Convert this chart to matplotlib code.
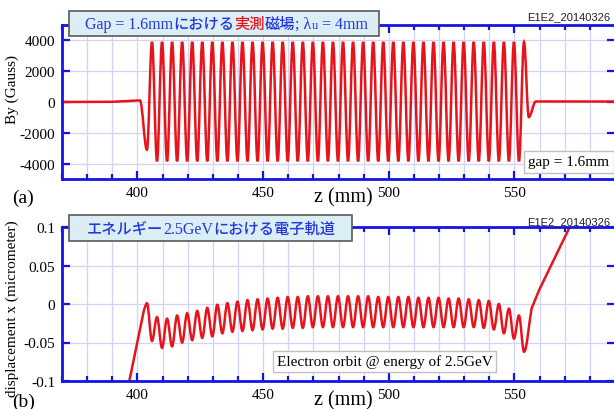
import matplotlib
matplotlib.use("Agg")
import matplotlib.pyplot as plt
from matplotlib.patches import Rectangle, PathPatch
from matplotlib.path import Path
from matplotlib.offsetbox import TextArea, HPacker, AnnotationBbox
from matplotlib.ticker import MultipleLocator, FixedLocator

plt.rcParams["axes.unicode_minus"] = False

# z positions (mm) of the field extrema: By troughs / By peaks
trough_z = [403.8, 407.8, 411.8, 415.8, 419.8, 423.8, 427.8, 431.8, 435.8, 439.8,
            443.8, 447.8, 451.8, 455.8, 459.8, 463.8, 467.8, 471.8, 475.8, 479.8,
            483.8, 487.8, 491.8, 495.8, 499.8, 503.8, 507.8, 511.8, 515.8, 519.8,
            523.8, 527.8, 531.8, 535.8, 539.8, 543.8, 547.8, 551.8]
peak_z = [405.8, 409.8, 413.8, 417.8, 421.8, 425.8, 429.8, 433.8, 437.8, 441.8,
          445.8, 449.8, 453.8, 457.8, 461.8, 465.8, 469.8, 473.8, 477.8, 481.8,
          485.8, 489.8, 493.8, 497.8, 501.8, 505.8, 509.8, 513.8, 517.8, 521.8,
          525.8, 529.8, 533.8, 537.8, 541.8, 545.8, 549.8, 553.8]

# measured field By (Gauss)
by_troughs = [-3100, -3850, -3850, -3850, -3850, -3850, -3850, -3850, -3850, -3850,
              -3850, -3850, -3850, -3850, -3850, -3850, -3850, -3850, -3850, -3850,
              -3850, -3850, -3850, -3850, -3850, -3850, -3850, -3850, -3850, -3850,
              -3850, -3850, -3850, -3850, -3850, -3850, -3850, -3850]
by_peaks = [3900, 3900, 3900, 3900, 3900, 3900, 3900, 3900, 3900, 3900,
            3900, 3900, 3900, 3900, 3900, 3900, 3900, 3900, 3900, 3900,
            3900, 3900, 3900, 3900, 3900, 3900, 3900, 3900, 3900, 3900,
            3900, 3900, 3900, 3900, 3900, 3900, 3900, 3900]
by_lead_z = [370, 390, 396, 401]
by_lead = [0, 15, 60, 100]
by_tail_z = [555.7, 558.5, 590]
by_tail = [-980, 35, 30]

# electron orbit x (micrometer) at the same positions
orbit_at_troughs = [0.001, -0.017, -0.019, -0.015, -0.012, -0.009, -0.005, -0.001, 0.001, 0.003,
                    0.005, 0.006, 0.007, 0.008, 0.009, 0.009, 0.010, 0.010, 0.010, 0.010,
                    0.010, 0.010, 0.010, 0.009, 0.009, 0.009, 0.009, 0.008, 0.008, 0.008,
                    0.007, 0.007, 0.006, 0.005, 0.004, 0.000, -0.006, -0.015]
orbit_at_peaks = [-0.048, -0.057, -0.055, -0.050, -0.047, -0.044, -0.042, -0.038, -0.036, -0.035,
                  -0.034, -0.033, -0.032, -0.032, -0.031, -0.031, -0.030, -0.030, -0.030, -0.030,
                  -0.030, -0.030, -0.030, -0.030, -0.030, -0.030, -0.030, -0.030, -0.030, -0.030,
                  -0.030, -0.030, -0.030, -0.031, -0.033, -0.038, -0.045, -0.062]
orbit_lead_z = [394, 402.6]
orbit_lead = [-0.144, -0.008]
orbit_tail_z = [556.8, 559.8, 572, 578]
orbit_tail = [-0.006, 0.018, 0.1, 0.14]


def interleave(a, b):
    out = []
    for u, v in zip(a, b):
        out += [u, v]
    return out


pole_z = interleave(trough_z, peak_z)
by_z = by_lead_z + pole_z + by_tail_z
by = by_lead + interleave(by_troughs, by_peaks) + by_tail
by_flat = [False, False, False, True] + [True] * len(pole_z) + [True, True, False]
orb_z = orbit_lead_z + pole_z + orbit_tail_z
orb = orbit_lead + interleave(orbit_at_troughs, orbit_at_peaks) + orbit_tail
orb_flat = [False, False] + [True] * len(pole_z) + [False] * len(orbit_tail_z)

W, H = 614, 410
BLUE = "#1414e6"
TXTBLUE = "#2436e0"
RED = "#e8141c"
GRID = "#d3d3f7"
SERIF = "Liberation Serif"
CJK = ["Noto Sans CJK JP", "DejaVu Sans"]


def fx(x):
    return x / W


def fy(y):
    return 1 - y / H


def smooth_line(ax, z, y, flat, **kw):
    # bezier through the extrema, horizontal tangent where flat
    verts = [(z[0], y[0])]
    codes = [Path.MOVETO]
    for i in range(1, len(z)):
        d = z[i] - z[i - 1]
        if flat[i - 1]:
            c1 = (z[i - 1] + 0.36 * d, y[i - 1])
        else:
            c1 = (z[i - 1] + d / 3, y[i - 1] + (y[i] - y[i - 1]) / 3)
        if flat[i]:
            c2 = (z[i] - 0.36 * d, y[i])
        else:
            c2 = (z[i] - d / 3, y[i] - (y[i] - y[i - 1]) / 3)
        verts += [c1, c2, (z[i], y[i])]
        codes += [Path.CURVE4] * 3
    ax.add_patch(PathPatch(Path(verts, codes), fill=False, **kw))


fig = plt.figure(figsize=(W / 100, H / 100), dpi=100)
ax1 = fig.add_axes([fx(62), fy(180), fx(553), (180 - 26) / H])
ax2 = fig.add_axes([fx(62), fy(382), fx(553), (382 - 228) / H])


def style(ax):
    for s in ax.spines.values():
        s.set_color(BLUE)
        s.set_linewidth(2)
    ax.set_xlim(370, 590)
    ax.xaxis.set_major_locator(MultipleLocator(50))
    ax.xaxis.set_minor_locator(MultipleLocator(10))
    ax.tick_params(which="both", direction="in", color=BLUE, width=1.6,
                   top=True, right=True, labelsize=11, pad=5)
    ax.tick_params(which="major", length=6)
    ax.tick_params(which="minor", length=3.5)
    for lab in ax.get_xticklabels() + ax.get_yticklabels():
        lab.set_family(SERIF)
    ax.grid(True, which="minor", axis="x", color=GRID, lw=0.9)
    ax.grid(True, which="major", axis="both", color=GRID, lw=0.9)
    ax.set_axisbelow(True)


smooth_line(ax1, by_z, by, by_flat, color=RED, lw=1.8)
ax1.set_ylim(-5000, 5000)
ax1.yaxis.set_major_locator(FixedLocator([-4000, -2000, 0, 2000, 4000]))
style(ax1)

smooth_line(ax2, orb_z, orb, orb_flat, color=RED, lw=1.8)
ax2.set_ylim(-0.1, 0.1)
ax2.yaxis.set_major_locator(FixedLocator([-0.1, -0.05, 0, 0.05, 0.1]))
ax2.set_yticklabels(["-0.1", "-0.05", "0", "0.05", "0.1"])
style(ax2)

# axis texts
fig.text(fx(12), fy(90), "By (Gauss)", rotation=90, ha="center", va="center",
         family=SERIF, fontsize=11)
fig.text(fx(12), fy(309), "displacement x (micrometer)", rotation=90, ha="center",
         va="center", family=SERIF, fontsize=11)
for yy in (198, 401):
    fig.text(fx(343), fy(yy), "z (mm)", ha="center", va="center", family=SERIF,
             fontsize=14.5)
fig.text(fx(23), fy(198), "(a)", ha="center", va="center", family=SERIF, fontsize=14)
fig.text(fx(24), fy(402), "(b)", ha="center", va="center", family=SERIF, fontsize=14)
for yy in (17, 222):
    fig.text(fx(610), fy(yy), "E1E2_20140326", ha="right", va="center",
             family="Liberation Sans", fontsize=8, color="#222222")

# title boxes
for (x0, y0, x1, y1) in [(69, 12, 379, 37), (69, 216, 352, 242)]:
    fig.add_artist(Rectangle((fx(x0), fy(y1)), (x1 - x0) / W, (y1 - y0) / H,
                             transform=fig.transFigure, fc="#dbeef5",
                             ec="#5a5a5a", lw=1.2, zorder=5))


def title(parts, x, y):
    areas = [TextArea(t, textprops=dict(color=c, fontsize=fs, family=fam,
                                        weight="medium"))
             for t, c, fs, fam in parts]
    pack = HPacker(children=areas, align="baseline", pad=0, sep=0)
    ab = AnnotationBbox(pack, (fx(x), fy(y)), xycoords="figure fraction",
                        box_alignment=(0, 0.5), frameon=False, pad=0, zorder=6)
    fig.add_artist(ab)


title([("Gap = 1.6mm", TXTBLUE, 11.5, SERIF),
       ("における", TXTBLUE, 11, CJK),
       ("実測", RED, 11, CJK),
       ("磁場", TXTBLUE, 11, CJK),
       ("; λ", TXTBLUE, 11.5, SERIF),
       ("u", TXTBLUE, 9, SERIF),
       (" = 4mm", TXTBLUE, 11.5, SERIF)], 85, 24.5)
title([("エネルギー", TXTBLUE, 11, CJK),
       ("2.5GeV", TXTBLUE, 11.5, SERIF),
       ("における電子軌道", TXTBLUE, 11, CJK)], 87, 229)

fig.text(fx(569), fy(163), "gap = 1.6mm", ha="center", va="center", family=SERIF,
         fontsize=11, zorder=6,
         bbox=dict(boxstyle="square,pad=0.3", fc="white", ec="#c0c0c0", lw=1))
fig.text(fx(384.5), fy(362.5), "Electron orbit @ energy of 2.5GeV", ha="center",
         va="center", family=SERIF, fontsize=11, zorder=6,
         bbox=dict(boxstyle="square,pad=0.25", fc="white", ec="#c0c0c0", lw=1))

fig.savefig("out.png", dpi=100)
